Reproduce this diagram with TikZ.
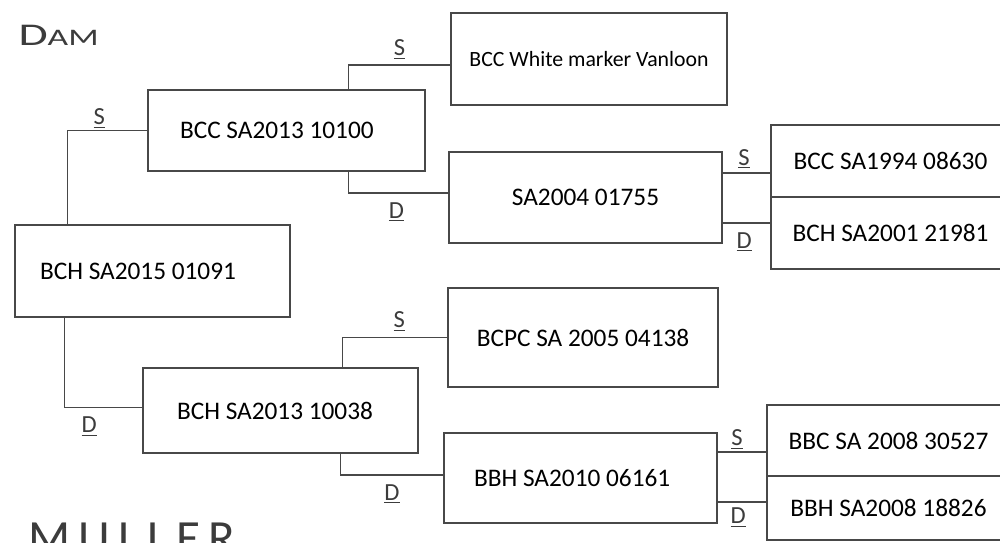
\documentclass[tikz,border=0pt]{standalone}
\usepackage{fontspec}
\setmainfont{Carlito}
\usetikzlibrary{positioning,calc}
\definecolor{ink}{RGB}{72,72,72}
\definecolor{pencil}{RGB}{60,60,60}
\tikzset{
  card/.style={draw=ink, line width=0.8pt, inner sep=0pt, text=black,
               font=\fontsize{14.4}{17}\selectfont},
  padded/.style 2 args={text width=#1, inner xsep=#2, align=flush left},
  link/.style={draw=ink, line width=0.8pt},
  sdtag/.style={font=\fontsize{14}{14}\selectfont, text=pencil, inner sep=1pt},
}
\newcommand{\sx}[1]{\underline{#1}}

\begin{document}
\begin{tikzpicture}[x=0.02cm,y=-0.02cm]
    \useasboundingbox (0,0) rectangle (1000,542);
    \node[font=\fontsize{18}{18}\selectfont, text=pencil, anchor=base west, inner sep=0pt, xscale=1.5, transform shape] (damlbl) at (18,45) {D{\fontsize{13.5}{13.5}\selectfont AM}};
    \node[font=\fontsize{28}{28}\selectfont, text=pencil, anchor=north west, inner sep=0pt] (mullbl) at (28,523) {M\,U\,L\,L\,E\,R};
    \node[card, padded={4.5cm}{0.5cm}, minimum height=1.84cm] (root) at (152.5,271) {BCH SA2015 01091};
    \node[card, padded={4.26cm}{0.64cm}, minimum height=1.62cm] (sire) at (286.5,130.5) {BCC SA2013 10100};
    \node[card, padded={4.14cm}{0.68cm}, minimum height=1.7cm] (dam) at (280.5,410.5) {BCH SA2013 10038};
    \node[card, minimum width=5.52cm, minimum height=1.84cm, font=\fontsize{12.4}{15}\selectfont] (ss) at (589,59) {BCC White marker Vanloon};
    \node[card, minimum width=5.46cm, minimum height=1.82cm] (sd) at (585.5,197.5) {SA2004 01755};
    \node[card, minimum width=5.4cm, minimum height=1.98cm] (ds) at (583,337.5) {BCPC SA 2005 04138};
    \node[card, padded={4.26cm}{0.6cm}, minimum height=1.8cm] (dd) at (580.5,478) {BBH SA2010 06161};
    \node[card, minimum width=4.78cm, minimum height=1.44cm] (sds) at (890.5,161) {BCC SA1994 08630};
    \node[card, minimum width=4.78cm, minimum height=1.44cm] (sdd) at (890.5,233) {BCH SA2001 21981};
    \node[card, minimum width=4.86cm, minimum height=1.42cm] (dds) at (888.5,440.5) {BBC SA 2008 30527};
    \node[card, minimum width=4.86cm, minimum height=1.28cm] (ddd) at (888.5,508) {BBH SA2008 18826};
    \draw[link] ([xshift=1.06cm]root.north west) |- node[sdtag, above, pos=0.7] (s1) {\sx{S}} (sire.west);
    \draw[link] ([xshift=1.0cm]root.south west) |- node[sdtag, below=4pt, pos=0.66] (d1) {\sx{D}} ([yshift=0.06cm]dam.west);
    \draw[link] ([xshift=-1.54cm]sire.north east) |- node[sdtag, above=2pt, pos=0.75] (s2) {\sx{S}} ([yshift=-0.12cm]ss.west);
    \draw[link] ([xshift=-1.54cm]sire.south east) |- node[sdtag, below=4pt, pos=0.74] (d2) {\sx{D}} ([yshift=0.09cm]sd.west);
    \draw[link] ([xshift=-1.52cm]dam.north east) |- node[sdtag, above=2pt, pos=0.77] (s3) {\sx{S}} (ds.west);
    \draw[link] ([xshift=-1.56cm]dam.south east) |- node[sdtag, below=4pt, pos=0.75] (d3) {\sx{D}} ([yshift=0.06cm]dd.west);
    \draw[link] ([yshift=0.49cm]sd.east) -- node[sdtag, above=1pt, pos=0.45] (s4) {\sx{S}} ([yshift=0.49cm]sd.east -| sds.west);
    \draw[link] ([yshift=-0.51cm]sd.east) -- node[sdtag, below=4pt, pos=0.45] (d4) {\sx{D}} ([yshift=-0.51cm]sd.east -| sdd.west);
    \draw[link] ([yshift=0.52cm]dd.east) -- node[sdtag, above=0pt, pos=0.4] (s5) {\sx{S}} ([yshift=0.52cm]dd.east -| dds.west);
    \draw[link] ([yshift=-0.48cm]dd.east) -- node[sdtag, below=2pt, pos=0.42] (d5) {\sx{D}} ([yshift=-0.48cm]dd.east -| ddd.west);
\end{tikzpicture}
\end{document}
